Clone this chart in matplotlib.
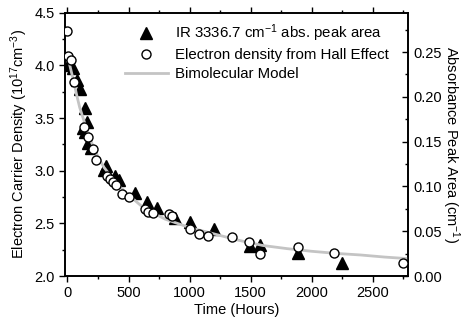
"""
Carrier density decay: Hall effect vs IR peak area, with bimolecular model.
"""

import matplotlib
matplotlib.use('Agg')
import matplotlib.pyplot as plt
from matplotlib.ticker import MultipleLocator

plt.rcParams['font.family'] = ['Liberation Sans', 'DejaVu Sans']
plt.rcParams['font.size'] = 10.5
plt.rcParams['mathtext.fontset'] = 'custom'
plt.rcParams['mathtext.rm'] = 'Liberation Sans'
plt.rcParams['mathtext.it'] = 'Liberation Sans'

#
#  Hall effect electron density (10^17 cm^-3)
#

hall_t = [0, 5, 30, 50, 135, 165, 205, 235, 320, 345, 370, 395, 450, 505,
          635, 660, 700, 830, 860, 1000, 1075, 1150, 1345, 1490, 1580,
          1890, 2180, 2750]
hall_n = [4.33, 4.09, 4.05, 3.84, 3.41, 3.32, 3.21, 3.10, 2.95, 2.92, 2.89,
          2.86, 2.78, 2.75, 2.64, 2.61, 2.60, 2.59, 2.57, 2.45, 2.40, 2.38,
          2.37, 2.32, 2.21, 2.28, 2.22, 2.12]

#
#  IR 3336.7 cm^-1 absorbance peak area (cm^-1)
#

ir_t = [5, 45, 80, 100, 140, 160, 130, 145, 170, 195, 295, 315, 390, 420,
        555, 650, 730, 880, 1005, 1200, 1495, 1580, 1890, 2250]
ir_a = [0.235, 0.232, 0.219, 0.209, 0.188, 0.172, 0.165, 0.161, 0.149,
        0.143, 0.118, 0.123, 0.112, 0.107, 0.093, 0.083, 0.076, 0.065,
        0.060, 0.053, 0.034, 0.035, 0.026, 0.015]

#
#  Bimolecular model curve
#

model_t = [0, 25, 50, 75, 100, 150, 200, 250, 300, 400, 500, 600, 700, 800,
           1000, 1200, 1400, 1600, 1800, 2000, 2200, 2400, 2600, 2790]
model_n = [4.10, 3.97, 3.85, 3.72, 3.60, 3.42, 3.26, 3.13, 3.03, 2.88,
           2.77, 2.67, 2.60, 2.54, 2.46, 2.40, 2.34, 2.29, 2.26, 2.235,
           2.215, 2.20, 2.18, 2.165]

fig = plt.figure(figsize=(4.68, 3.24), dpi=100)
ax1 = fig.add_axes([0.139, 0.148, 0.733, 0.813])
ax2 = ax1.twinx()

#  keep the model line and circles above the triangles
ax1.set_zorder(ax2.get_zorder() + 1)
ax1.patch.set_visible(False)

tri, = ax2.plot(ir_t, ir_a, '^', color='black', ms=8.5, zorder=2,
                label='IR 3336.7 cm$^{-1}$ abs. peak area')
line, = ax1.plot(model_t, model_n, color='#c4c4c4', lw=2.0, zorder=2,
                 label='Bimolecular Model')
circ, = ax1.plot(hall_t, hall_n, 'o', mfc='white', mec='black', mew=1.0,
                 ms=6.5, zorder=3, label='Electron density from Hall Effect')

ax1.set_xlim(-20, 2790)
ax1.set_ylim(2.0, 4.5)
ax2.set_ylim(0, 0.294)

ax1.xaxis.set_major_locator(MultipleLocator(500))
ax1.xaxis.set_minor_locator(MultipleLocator(250))
ax1.yaxis.set_major_locator(MultipleLocator(0.5))
ax1.yaxis.set_minor_locator(MultipleLocator(0.25))
ax2.yaxis.set_major_locator(MultipleLocator(0.05))
ax2.yaxis.set_minor_locator(MultipleLocator(0.025))
ax2.yaxis.set_major_formatter(plt.FormatStrFormatter('%.2f'))

ax1.tick_params(axis='both', which='major', direction='out', length=4,
                width=1, labelsize=10.5)
ax1.tick_params(axis='both', which='minor', direction='out', length=2.5,
                width=1)
ax1.tick_params(axis='x', top=True, which='both')
ax2.tick_params(axis='y', which='major', direction='in', length=4, width=1,
                labelsize=10.5)
ax2.tick_params(axis='y', which='minor', direction='in', length=2.5, width=1)

for a in (ax1, ax2):
    for s in a.spines.values():
        s.set_linewidth(1.2)

ax1.set_xlabel('Time (Hours)', labelpad=2)
ax1.set_ylabel('Electron Carrier Density (10$^{17}$cm$^{-3}$)', labelpad=3)
ax2.set_ylabel('Absorbance Peak Area (cm$^{-1}$)', rotation=270,
               labelpad=14)

ax1.legend(handles=[tri, circ, line], loc='upper left',
           bbox_to_anchor=(0.165, 0.975), frameon=False, fontsize=10.8,
           handlelength=2.9, handletextpad=0.45, labelspacing=0.3,
           borderaxespad=0.0, borderpad=0.2)

fig.savefig('out.png', dpi=100)
